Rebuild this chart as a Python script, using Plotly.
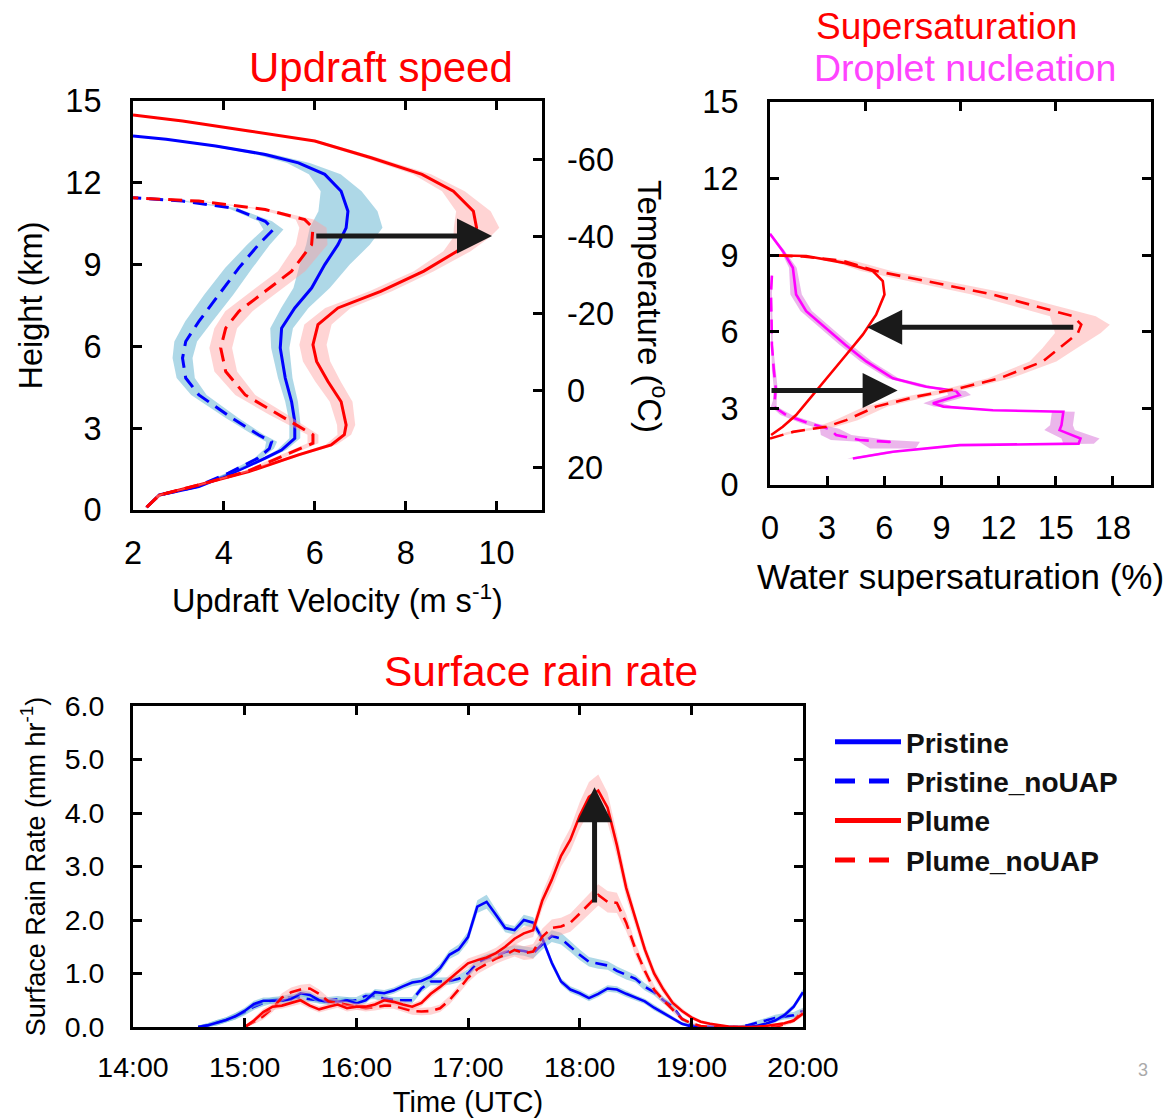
import plotly.graph_objects as go

# ---------------- Top-left: updraft velocity profiles ----------------
PRISTINE_H = [0.1, 0.55, 0.86, 1.35, 1.9, 2.2, 2.63, 3.24, 3.97, 4.84, 5.94, 6.67, 7.41, 8.14, 9.0, 9.73, 10.35, 10.96, 11.69, 12.31, 12.73, 13.04, 13.35, 13.6, 13.72]
PRISTINE_W = [2.3, 2.58, 3.45, 4.18, 4.91, 5.27, 5.56, 5.56, 5.49, 5.35, 5.24, 5.27, 5.56, 5.93, 6.22, 6.51, 6.69, 6.73, 6.58, 6.22, 5.64, 4.91, 3.82, 2.73, 2.0]
PRISTINE_W_SPREAD = [0.03, 0.05, 0.05, 0.06, 0.08, 0.1, 0.12, 0.12, 0.14, 0.16, 0.2, 0.25, 0.3, 0.4, 0.55, 0.7, 0.8, 0.65, 0.45, 0.35, 0.25, 0.2, 0.15, 0.12, 0.1]

PRISTINE_NOUAP_H = [0.1, 0.55, 0.86, 1.35, 1.9, 2.25, 2.5, 2.76, 3.37, 4.22, 4.84, 5.57, 6.18, 6.92, 7.9, 8.88, 9.73, 10.29, 10.59, 11.08, 11.33, 11.45]
PRISTINE_NOUAP_W = [2.3, 2.58, 3.4, 4.1, 4.75, 5.0, 5.05, 4.76, 4.18, 3.45, 3.16, 3.09, 3.16, 3.45, 3.89, 4.33, 4.76, 5.09, 4.91, 4.18, 3.09, 2.0]
PRISTINE_NOUAP_W_SPREAD = [0.03, 0.05, 0.05, 0.06, 0.08, 0.1, 0.12, 0.12, 0.14, 0.17, 0.2, 0.22, 0.25, 0.3, 0.32, 0.3, 0.25, 0.22, 0.15, 0.1, 0.08, 0.05]

PLUME_H = [0.1, 0.55, 0.92, 1.41, 2.02, 2.39, 2.76, 3.12, 3.97, 4.71, 5.45, 6.06, 6.8, 7.41, 8.02, 8.76, 9.49, 10.0, 10.35, 10.96, 11.69, 12.31, 12.92, 13.53, 13.9, 14.27, 14.49]
PLUME_W = [2.3, 2.58, 3.45, 4.55, 5.64, 6.36, 6.65, 6.69, 6.58, 6.29, 6.04, 5.96, 6.07, 6.51, 7.45, 8.4, 9.13, 9.45, 9.56, 9.49, 9.05, 8.36, 7.24, 6.0, 4.55, 3.09, 2.0]
PLUME_W_SPREAD = [0.03, 0.05, 0.06, 0.08, 0.1, 0.12, 0.15, 0.2, 0.25, 0.28, 0.3, 0.3, 0.3, 0.28, 0.25, 0.22, 0.3, 0.4, 0.5, 0.38, 0.25, 0.2, 0.15, 0.1, 0.08, 0.06, 0.05]

PLUME_NOUAP_H = [0.1, 0.55, 0.92, 1.41, 1.96, 2.45, 2.76, 3.0, 3.49, 4.22, 5.08, 5.94, 6.67, 7.29, 8.02, 8.76, 9.73, 10.35, 10.65, 11.02, 11.33, 11.45]
PLUME_NOUAP_W = [2.3, 2.58, 3.45, 4.5, 5.27, 5.96, 5.96, 5.71, 5.2, 4.47, 4.04, 3.93, 4.04, 4.33, 4.91, 5.49, 5.93, 5.96, 5.78, 4.91, 3.45, 2.0]
PLUME_NOUAP_W_SPREAD = [0.03, 0.05, 0.06, 0.08, 0.1, 0.12, 0.12, 0.15, 0.2, 0.22, 0.25, 0.25, 0.25, 0.3, 0.3, 0.3, 0.35, 0.3, 0.2, 0.12, 0.08, 0.05]

TEMP_TICKS = [-60, -40, -20, 0, 20]
TEMP_LABELS = ["-60", "-40", "-20", "0", "20"]
TEMP_RANGE = [31.1, -75.2]   # temperature at 0 km and 15 km

# ---------------- Top-right: supersaturation / droplet nucleation ----------------
SS_PLUME_H = [1.96, 2.28, 2.74, 3.52, 4.31, 5.1, 5.89, 6.67, 7.46, 7.99, 8.38, 8.71, 8.97, 9.0]
SS_PLUME = [0.06, 0.67, 1.37, 2.25, 3.12, 4.0, 4.87, 5.57, 6.01, 5.92, 5.4, 3.82, 1.9, 0.0]

SS_NOUAP_H = [1.82, 2.08, 2.28, 2.54, 3.07, 3.46, 3.79, 4.18, 4.84, 5.36, 5.95, 6.28, 6.61, 7.46, 7.99, 8.38, 8.78, 8.95, 9.0]
SS_NOUAP = [0.0, 1.2, 2.95, 4.0, 5.57, 7.67, 9.95, 12.05, 14.33, 15.2, 16.16, 16.34, 15.9, 11.69, 8.2, 5.57, 3.82, 1.72, 0.0]
SS_NOUAP_SPREAD = [0.05, 0.3, 0.5, 0.6, 0.6, 0.6, 0.6, 0.6, 0.7, 0.9, 1.2, 1.5, 1.2, 1.1, 1.0, 0.8, 0.6, 0.3, 0.05]

DN_PLUME_H = [9.84, 9.17, 8.51, 7.46, 6.81, 6.15, 5.49, 4.84, 4.18, 3.85, 3.68, 3.52, 3.37, 3.2, 3.07, 2.93, 2.87, 2.34, 2.15, 1.82, 1.62, 1.56, 1.3, 1.04]
DN_PLUME = [0.0, 0.67, 1.2, 1.37, 1.9, 2.95, 3.95, 5.05, 6.45, 8.2, 9.77, 9.95, 9.25, 8.55, 9.1, 11.7, 15.4, 15.3, 15.2, 16.3, 16.2, 9.95, 6.45, 4.35]
DN_PLUME_SPREAD = [0.05, 0.1, 0.2, 0.3, 0.3, 0.3, 0.3, 0.3, 0.3, 0.4, 0.5, 0.6, 0.6, 0.5, 0.5, 0.5, 0.6, 0.6, 0.8, 1.0, 0.8, 0.5, 0.4, 0.3]

DN_NOUAP_H = [8.2, 7.5, 6.5, 5.5, 4.5, 3.8, 3.3, 3.07, 2.74, 2.41, 2.2, 1.96, 1.76, 1.69, 1.43]
DN_NOUAP = [0.1, 0.05, 0.08, 0.1, 0.2, 0.3, 0.25, 0.2, 0.85, 2.07, 3.12, 3.47, 4.7, 6.27, 6.45]
DN_NOUAP_SPREAD = [0.05, 0.05, 0.05, 0.05, 0.1, 0.1, 0.1, 0.15, 0.3, 0.4, 0.5, 0.8, 1.5, 1.6, 1.2]

SS_TOP_TICKS = [5, 10, 15]

# ---------------- Bottom: surface rain rate ----------------
TIME_PRISTINE = ["14:35", "14:40", "14:45", "14:50", "14:55",
                 "15:00", "15:05", "15:10", "15:15", "15:20", "15:25", "15:30", "15:35", "15:40", "15:45", "15:50", "15:55",
                 "16:00", "16:05", "16:10", "16:15", "16:20", "16:25", "16:30", "16:35", "16:40", "16:45", "16:50", "16:55",
                 "17:00", "17:05", "17:10", "17:15", "17:20", "17:25", "17:30", "17:35", "17:40", "17:45", "17:50", "17:55",
                 "18:00", "18:05", "18:10", "18:15", "18:20", "18:25", "18:30", "18:35", "18:40", "18:45", "18:50", "18:55",
                 "19:00", "19:05", "19:10", "19:15", "19:20", "19:25", "19:30", "19:35", "19:40", "19:45", "19:50", "19:55",
                 "20:00"]
TIME_PLUME = TIME_PRISTINE[5:]

RAIN_PRISTINE = [0.0, 0.03, 0.08, 0.13, 0.2,
                 0.3, 0.43, 0.49, 0.49, 0.49, 0.52, 0.63, 0.6, 0.5, 0.47, 0.47, 0.5,
                 0.44, 0.5, 0.65, 0.63, 0.68, 0.76, 0.83, 0.86, 0.94, 1.1, 1.35, 1.45,
                 1.68, 2.25, 2.34, 2.1, 1.85, 1.81, 2.0, 1.95, 1.65, 1.2, 0.85, 0.7,
                 0.63, 0.54, 0.62, 0.72, 0.7, 0.62, 0.55, 0.48, 0.36, 0.26, 0.16, 0.06,
                 0.01, 0.0, 0.0, 0.0, 0.0, 0.0, 0.0, 0.02, 0.06, 0.12, 0.22, 0.38,
                 0.65]
RAIN_PRISTINE_SPREAD = [0.03, 0.04, 0.05, 0.05, 0.06,
                        0.06, 0.06, 0.06, 0.06, 0.06, 0.06, 0.06, 0.06, 0.06, 0.06, 0.06, 0.06,
                        0.06, 0.06, 0.06, 0.06, 0.06, 0.06, 0.07, 0.07, 0.07, 0.08, 0.08, 0.09,
                        0.1, 0.12, 0.13, 0.1, 0.08, 0.08, 0.1, 0.1, 0.08, 0.07, 0.06, 0.06,
                        0.06, 0.06, 0.06, 0.06, 0.06, 0.06, 0.05, 0.05, 0.05, 0.04, 0.04, 0.03,
                        0.02, 0.02, 0.02, 0.02, 0.02, 0.02, 0.02, 0.03, 0.03, 0.04, 0.05, 0.05,
                        0.06]

RAIN_PRISTINE_NOUAP = [0.0, 0.03, 0.08, 0.13, 0.2,
                       0.28, 0.38, 0.45, 0.5, 0.52, 0.56, 0.55, 0.52, 0.5, 0.5, 0.52, 0.5,
                       0.5, 0.58, 0.58, 0.53, 0.5, 0.5, 0.5, 0.72, 0.85, 0.85, 0.86, 0.9,
                       1.0, 1.2, 1.28, 1.33, 1.4, 1.44, 1.42, 1.38, 1.55, 1.7, 1.65, 1.5,
                       1.35, 1.22, 1.18, 1.15, 1.05, 0.97, 0.9, 0.75, 0.65, 0.5, 0.38, 0.15,
                       0.03, 0.0, 0.0, 0.0, 0.0, 0.0, 0.03, 0.07, 0.12, 0.17, 0.2, 0.22,
                       0.3]
RAIN_PRISTINE_NOUAP_SPREAD = [0.03, 0.04, 0.05, 0.05, 0.06,
                              0.06, 0.06, 0.06, 0.06, 0.06, 0.06, 0.06, 0.06, 0.06, 0.06, 0.06, 0.06,
                              0.06, 0.06, 0.06, 0.06, 0.06, 0.06, 0.06, 0.07, 0.07, 0.07, 0.07, 0.07,
                              0.08, 0.08, 0.08, 0.08, 0.09, 0.09, 0.09, 0.1, 0.1, 0.11, 0.11, 0.1,
                              0.1, 0.09, 0.09, 0.08, 0.08, 0.08, 0.07, 0.07, 0.06, 0.06, 0.05, 0.04,
                              0.03, 0.02, 0.02, 0.02, 0.02, 0.02, 0.03, 0.04, 0.05, 0.06, 0.06, 0.06,
                              0.06]

RAIN_PLUME = [0.0, 0.12, 0.28, 0.38, 0.4, 0.45, 0.5, 0.4, 0.33, 0.38, 0.42, 0.35,
              0.38, 0.38, 0.42, 0.5, 0.47, 0.42, 0.38, 0.45, 0.62, 0.75, 0.9, 1.05,
              1.19, 1.25, 1.3, 1.38, 1.5, 1.65, 1.75, 1.81, 2.37, 2.75, 3.2, 3.5,
              3.95, 4.3, 4.42, 4.1, 3.4, 2.6, 2.0, 1.45, 1.0, 0.7, 0.45, 0.3,
              0.18, 0.1, 0.06, 0.03, 0.01, 0.0, 0.0, 0.0, 0.02, 0.04, 0.07, 0.12,
              0.25]
RAIN_PLUME_SPREAD = [0.03, 0.05, 0.06, 0.06, 0.06, 0.06, 0.07, 0.06, 0.06, 0.06, 0.06, 0.06,
                     0.06, 0.06, 0.06, 0.06, 0.06, 0.06, 0.06, 0.06, 0.07, 0.07, 0.08, 0.08,
                     0.09, 0.09, 0.1, 0.1, 0.11, 0.12, 0.12, 0.13, 0.15, 0.18, 0.2, 0.22,
                     0.25, 0.28, 0.3, 0.28, 0.22, 0.18, 0.14, 0.12, 0.1, 0.08, 0.06, 0.05,
                     0.04, 0.03, 0.03, 0.02, 0.02, 0.02, 0.02, 0.02, 0.02, 0.03, 0.03, 0.04,
                     0.05]

RAIN_PLUME_NOUAP = [0.0, 0.1, 0.2, 0.35, 0.55, 0.65, 0.7, 0.72, 0.62, 0.48, 0.45, 0.42,
                    0.38, 0.35, 0.37, 0.4, 0.4, 0.35, 0.3, 0.29, 0.3, 0.35, 0.5, 0.7,
                    0.92, 1.08, 1.18, 1.28, 1.35, 1.44, 1.38, 1.41, 1.69, 1.85, 1.88, 1.95,
                    2.12, 2.3, 2.47, 2.34, 2.32, 1.95, 1.45, 1.05, 0.7, 0.5, 0.32, 0.15,
                    0.07, 0.02, 0.0, 0.0, 0.0, 0.0, 0.0, 0.0, 0.0, 0.0, 0.05, 0.12,
                    0.3]
RAIN_PLUME_NOUAP_SPREAD = [0.03, 0.05, 0.06, 0.07, 0.08, 0.09, 0.09, 0.09, 0.08, 0.07, 0.06, 0.06,
                           0.06, 0.06, 0.06, 0.06, 0.06, 0.06, 0.07, 0.07, 0.07, 0.07, 0.08, 0.08,
                           0.09, 0.09, 0.1, 0.1, 0.1, 0.12, 0.13, 0.14, 0.15, 0.16, 0.16, 0.17,
                           0.18, 0.19, 0.2, 0.2, 0.19, 0.16, 0.12, 0.1, 0.08, 0.06, 0.05, 0.04,
                           0.03, 0.02, 0.02, 0.02, 0.02, 0.02, 0.02, 0.02, 0.02, 0.02, 0.03, 0.04,
                           0.05]

TIME_TICKS = ["14:00", "15:00", "16:00", "17:00", "18:00", "19:00", "20:00"]
RAIN_TICKS = [0, 1, 2, 3, 4, 5, 6]

# ---------------- styling ----------------
FONT = "Liberation Sans, Arial, Helvetica, sans-serif"
BLUE = "#0000ff"
RED = "#ff0000"
MAG = "#ff00ff"
BAND_BLUE = "rgba(120,190,215,0.6)"
BAND_RED = "rgba(255,160,160,0.45)"
BAND_MAG = "rgba(215,110,215,0.5)"
ARROW = "#1a1a1a"
DASH_TOP = "14px,8px"
DASH_BOT = "12px,7px"


def hours(s):
    h, m = s.split(":")
    return int(h) + int(m) / 60.0


fig = go.Figure()


def profile(x, h, spread, color, band, dash, width, xa, ya):
    if spread is not None:
        lo = [a - b for a, b in zip(x, spread)]
        hi = [a + b for a, b in zip(x, spread)]
        fig.add_trace(go.Scatter(x=lo + hi[::-1], y=h + h[::-1], fill="toself", fillcolor=band,
                                 mode="lines", line=dict(width=0), hoverinfo="skip",
                                 showlegend=False, xaxis=xa, yaxis=ya))
    fig.add_trace(go.Scatter(x=x, y=h, mode="lines", line=dict(color=color, width=width, dash=dash),
                             showlegend=False, xaxis=xa, yaxis=ya))


def series(times, v, spread, color, band, dash, name):
    t = [hours(s) for s in times]
    lo = [max(a - b, 0) for a, b in zip(v, spread)]
    hi = [a + b for a, b in zip(v, spread)]
    fig.add_trace(go.Scatter(x=t + t[::-1], y=lo + hi[::-1], fill="toself", fillcolor=band,
                             mode="lines", line=dict(width=0), hoverinfo="skip",
                             showlegend=False, xaxis="x3", yaxis="y3"))
    fig.add_trace(go.Scatter(x=t, y=v, mode="lines", name=name,
                             line=dict(color=color, width=2.6, dash=dash),
                             showlegend=False, xaxis="x3", yaxis="y3"))


# bands first then lines (top-left)
profile(PRISTINE_W, PRISTINE_H, PRISTINE_W_SPREAD, BLUE, BAND_BLUE, "solid", 3, "x", "y")
profile(PRISTINE_NOUAP_W, PRISTINE_NOUAP_H, PRISTINE_NOUAP_W_SPREAD, BLUE, BAND_BLUE, DASH_TOP, 3, "x", "y")
profile(PLUME_W, PLUME_H, PLUME_W_SPREAD, RED, BAND_RED, "solid", 3, "x", "y")
profile(PLUME_NOUAP_W, PLUME_NOUAP_H, PLUME_NOUAP_W_SPREAD, RED, BAND_RED, DASH_TOP, 3, "x", "y")

# invisible anchor traces so the secondary (temperature / top) axes get drawn
fig.add_trace(go.Scatter(x=[None] * len(TEMP_TICKS), y=TEMP_TICKS, mode="markers", marker=dict(opacity=0),
                         hoverinfo="skip", showlegend=False, xaxis="x", yaxis="y4"))
fig.add_trace(go.Scatter(x=SS_TOP_TICKS, y=[None] * len(SS_TOP_TICKS), mode="markers", marker=dict(opacity=0),
                         hoverinfo="skip", showlegend=False, xaxis="x4", yaxis="y2"))

# top-right
profile(DN_NOUAP, DN_NOUAP_H, DN_NOUAP_SPREAD, MAG, BAND_MAG, DASH_TOP, 2.6, "x2", "y2")
profile(DN_PLUME, DN_PLUME_H, DN_PLUME_SPREAD, MAG, BAND_MAG, "solid", 2.6, "x2", "y2")
profile(SS_NOUAP, SS_NOUAP_H, SS_NOUAP_SPREAD, RED, BAND_RED, DASH_TOP, 2.6, "x2", "y2")
profile(SS_PLUME, SS_PLUME_H, None, RED, None, "solid", 2.6, "x2", "y2")

# bottom
series(TIME_PRISTINE, RAIN_PRISTINE_NOUAP, RAIN_PRISTINE_NOUAP_SPREAD, BLUE, BAND_BLUE, DASH_BOT, "Pristine_noUAP")
series(TIME_PRISTINE, RAIN_PRISTINE, RAIN_PRISTINE_SPREAD, BLUE, BAND_BLUE, "solid", "Pristine")
series(TIME_PLUME, RAIN_PLUME_NOUAP, RAIN_PLUME_NOUAP_SPREAD, RED, BAND_RED, DASH_BOT, "Plume_noUAP")
series(TIME_PLUME, RAIN_PLUME, RAIN_PLUME_SPREAD, RED, BAND_RED, "solid", "Plume")

# legend entries
for name, color, dash in [("Pristine", BLUE, "solid"), ("Pristine_noUAP", BLUE, "20px,14px"),
                          ("Plume", RED, "solid"), ("Plume_noUAP", RED, "20px,14px")]:
    fig.add_trace(go.Scatter(x=[None], y=[None], mode="lines", name=name,
                             line=dict(color=color, width=5, dash=dash),
                             xaxis="x3", yaxis="y3", showlegend=True))

# arrows
arrow_common = dict(text="", showarrow=True, arrowhead=2, arrowsize=1.4, arrowwidth=5, arrowcolor=ARROW)
fig.add_annotation(x=9.9, y=10.05, ax=6.0, ay=10.05, xref="x", yref="y", axref="x", ayref="y", **arrow_common)
fig.add_annotation(x=5.1, y=6.18, ax=16.0, ay=6.18, xref="x2", yref="y2", axref="x2", ayref="y2", **arrow_common)
fig.add_annotation(x=6.7, y=3.7, ax=0.0, ay=3.7, xref="x2", yref="y2", axref="x2", ayref="y2", **arrow_common)
fig.add_annotation(x=hours("18:08"), y=4.48, ax=hours("18:08"), ay=2.3, xref="x3", yref="y3", axref="x3", ayref="y3", **arrow_common)

# titles
fig.add_annotation(text="Updraft speed", x=381 / 1165, y=1 - 67 / 1118, xref="paper", yref="paper",
                   showarrow=False, font=dict(size=42, color=RED), xanchor="center", yanchor="middle")
fig.add_annotation(text="Supersaturation", x=946 / 1165, y=1 - 27 / 1118, xref="paper", yref="paper",
                   showarrow=False, font=dict(size=37, color=RED), xanchor="center", yanchor="middle")
fig.add_annotation(text="Droplet nucleation", x=965 / 1165, y=1 - 68 / 1118, xref="paper", yref="paper",
                   showarrow=False, font=dict(size=37.5, color="#ff44ff"), xanchor="center", yanchor="middle")
fig.add_annotation(text="Surface rain rate", x=541 / 1165, y=1 - 671 / 1118, xref="paper", yref="paper",
                   showarrow=False, font=dict(size=42.5, color=RED), xanchor="center", yanchor="middle")
fig.add_annotation(text="Temperature (<sup>o</sup>C)", x=652 / 1165, y=1 - 306 / 1118, xref="paper", yref="paper",
                   showarrow=False, textangle=90, font=dict(size=33, color="black"), xanchor="center", yanchor="middle")
fig.add_annotation(text="3", x=1143 / 1165, y=1 - 1070 / 1118, xref="paper", yref="paper",
                   showarrow=False, font=dict(size=18, color="#aaaaaa"), xanchor="center", yanchor="middle")

ax_common = dict(showgrid=False, zeroline=False, showline=True, linecolor="black", linewidth=3,
                 ticks="inside", ticklen=9, tickwidth=2.5, tickcolor="black", automargin=False)

fig.update_layout(
    width=1165, height=1118, margin=dict(l=0, r=0, t=0, b=0, autoexpand=False),
    paper_bgcolor="white", plot_bgcolor="white",
    font=dict(family=FONT, color="black", size=30),
    showlegend=True,
    legend=dict(x=830 / 1165, y=1 - 717 / 1118, xanchor="left", yanchor="top",
                font=dict(size=28, weight="bold", color="#111111"), bgcolor="rgba(0,0,0,0)",
                tracegroupgap=0, itemwidth=66),
    xaxis=dict(domain=[133 / 1165, 542 / 1165], anchor="y", range=[2, 11], tickvals=[2, 4, 6, 8, 10],
               mirror="ticks", tickfont=dict(size=32.5), ticklabelstandoff=12,
               title=dict(text="Updraft Velocity (m s<sup>-1</sup>)", font=dict(size=32.5), standoff=20), **ax_common),
    yaxis=dict(domain=[1 - 510 / 1118, 1 - 101 / 1118], anchor="x", range=[0, 15], tickvals=[0, 3, 6, 9, 12, 15],
               mirror=True, tickfont=dict(size=32.5), ticklabelstandoff=22,
               title=dict(text="Height (km)", font=dict(size=32.5), standoff=13), **ax_common),
    yaxis4=dict(overlaying="y", anchor="x", side="right", range=TEMP_RANGE, tickvals=TEMP_TICKS,
                ticktext=TEMP_LABELS,
                showgrid=False, zeroline=False, showline=False, ticks="inside", ticklen=9, tickwidth=2.5,
                tickcolor="black", tickfont=dict(size=32.5), ticklabelstandoff=24, automargin=False),
    xaxis2=dict(domain=[770 / 1165, 1151 / 1165], anchor="y2", range=[0, 20], tickvals=[0, 3, 6, 9, 12, 15, 18],
                mirror=True, tickfont=dict(size=32.5), ticklabelstandoff=12,
                title=dict(text="Water supersaturation (%)", font=dict(size=35), standoff=20), **ax_common),
    xaxis4=dict(overlaying="x2", anchor="y2", side="top", range=[0, 20], tickvals=SS_TOP_TICKS,
                showticklabels=False, showgrid=False, zeroline=False, showline=False,
                ticks="inside", ticklen=9, tickwidth=2.5, tickcolor="black", automargin=False),
    yaxis2=dict(domain=[1 - 485 / 1118, 1 - 102 / 1118], anchor="x2", range=[0, 15], tickvals=[0, 3, 6, 9, 12, 15],
                mirror="ticks", tickfont=dict(size=32.5), ticklabelstandoff=22, **ax_common),
    xaxis3=dict(domain=[133 / 1165, 803 / 1165], anchor="y3", range=[14, 20],
                tickvals=[hours(s) for s in TIME_TICKS], ticktext=TIME_TICKS,
                mirror="ticks", tickfont=dict(size=28.5), ticklabelstandoff=13,
                title=dict(text="Time (UTC)", font=dict(size=29), standoff=15), **ax_common),
    yaxis3=dict(domain=[1 - 1027 / 1118, 1 - 706 / 1118], anchor="x3", range=[0, 6], tickvals=RAIN_TICKS,
                tickformat=".1f", mirror="ticks", tickfont=dict(size=28.5), ticklabelstandoff=20,
                title=dict(text="Surface Rain Rate (mm hr<sup>-1</sup>)", font=dict(size=27), standoff=12), **ax_common),
)

fig.write_html("out.html")
